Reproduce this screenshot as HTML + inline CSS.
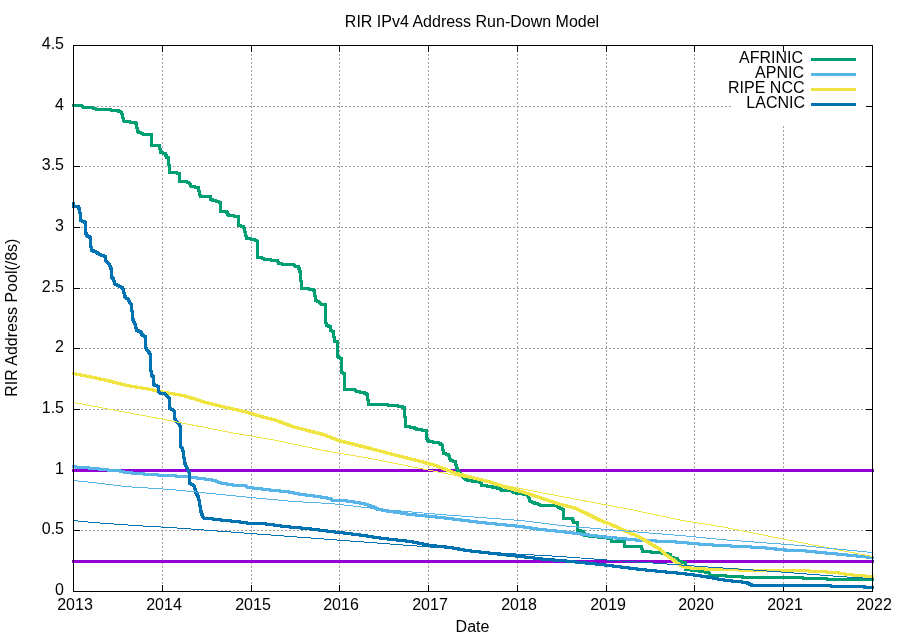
<!DOCTYPE html><html><head><meta charset="utf-8"><style>html,body{margin:0;padding:0;background:#fff;width:900px;height:640px;overflow:hidden}svg{display:block;will-change:transform}text{font-family:"Liberation Sans",sans-serif;font-size:16px;fill:#000}</style></head><body><svg width="900" height="640" viewBox="0 0 900 640"><defs><filter id="d" x="0" y="0" width="900" height="640" filterUnits="userSpaceOnUse" color-interpolation-filters="sRGB"><feMorphology operator="dilate" radius="1"/></filter></defs><rect x="0" y="0" width="900" height="640" fill="#fff"/><path d="M162.5 46V591M251.5 46V591M339.5 46V591M428.5 46V591M517.5 46V591M606.5 46V591M694.5 46V591M783.5 46V591M73 530.5H872M73 470.5H872M73 409.5H872M73 348.5H872M73 288.5H872M73 227.5H872M73 166.5H872M73 106.5H872" stroke="#a0a0a0" stroke-width="1" stroke-dasharray="2 2" fill="none" shape-rendering="crispEdges"/><path d="M73.5 585V591M73.5 46V52M162.5 585V591M162.5 46V52M251.5 585V591M251.5 46V52M339.5 585V591M339.5 46V52M428.5 585V591M428.5 46V52M517.5 585V591M517.5 46V52M606.5 585V591M606.5 46V52M694.5 585V591M694.5 46V52M783.5 585V591M783.5 46V52M872.5 585V591M872.5 46V52M74 591.5H80M866 591.5H872M74 530.5H80M866 530.5H872M74 470.5H80M866 470.5H872M74 409.5H80M866 409.5H872M74 348.5H80M866 348.5H872M74 288.5H80M866 288.5H872M74 227.5H80M866 227.5H872M74 166.5H80M866 166.5H872M74 106.5H80M866 106.5H872M74 45.5H80M866 45.5H872" stroke="#000" stroke-width="1" fill="none" shape-rendering="crispEdges"/><g filter="url(#d)"><path d="M73.5 470.5H872.5M73.5 561.5H872.5" stroke="#9400d3" stroke-width="1" stroke-linecap="square" fill="none" shape-rendering="crispEdges"/></g><g filter="url(#d)"><path d="M73.5 105.5 L81.5 105.5 L83.5 107.5 L91.5 107.5 L97.5 109.5 L105.5 109.5 L116.5 110.5 L120.5 111.5 L122.5 114.5 L123.5 120.5 L124.5 121.5 L134.5 122.5 L136.5 123.5 L137.5 131.5 L139.5 132.5 L144.5 134.5 L151.5 134.5 L151.5 145.5 L159.5 145.5 L160.5 152.5 L165.5 153.5 L166.5 157.5 L168.5 157.5 L169.5 172.5 L174.5 172.5 L179.5 173.5 L179.5 181.5 L186.5 181.5 L189.5 183.5 L191.5 186.5 L198.5 187.5 L199.5 193.5 L200.5 196.5 L210.5 196.5 L210.5 199.5 L214.5 200.5 L220.5 202.5 L220.5 211.5 L226.5 211.5 L228.5 215.5 L238.5 216.5 L238.5 225.5 L243.5 226.5 L245.5 233.5 L246.5 238.5 L254.5 239.5 L257.5 241.5 L257.5 257.5 L261.5 257.5 L264.5 259.5 L277.5 260.5 L278.5 263.5 L285.5 264.5 L293.5 264.5 L295.5 266.5 L298.5 266.5 L299.5 270.5 L300.5 272.5 L301.5 288.5 L304.5 288.5 L313.5 289.5 L314.5 291.5 L315.5 300.5 L318.5 301.5 L321.5 304.5 L325.5 304.5 L325.5 320.5 L326.5 325.5 L330.5 326.5 L330.5 330.5 L333.5 331.5 L334.5 341.5 L337.5 341.5 L337.5 355.5 L338.5 357.5 L341.5 358.5 L341.5 372.5 L344.5 373.5 L344.5 389.5 L354.5 389.5 L356.5 391.5 L363.5 392.5 L367.5 394.5 L368.5 404.5 L380.5 404.5 L395.5 405.5 L400.5 406.5 L404.5 407.5 L405.5 426.5 L413.5 427.5 L417.5 429.5 L426.5 430.5 L426.5 437.5 L428.5 441.5 L436.5 442.5 L438.5 442.5 L442.5 445.5 L443.5 453.5 L448.5 454.5 L450.5 460.5 L455.5 461.5 L456.5 467.5 L458.5 471.5 L462.5 476.5 L467.5 480.5 L475.5 481.5 L481.5 482.5 L481.5 485.5 L491.5 486.5 L493.5 487.5 L500.5 488.5 L501.5 490.5 L511.5 490.5 L513.5 492.5 L518.5 493.5 L526.5 494.5 L528.5 495.5 L529.5 500.5 L532.5 502.5 L536.5 503.5 L541.5 505.5 L556.5 505.5 L560.5 508.5 L563.5 509.5 L563.5 518.5 L572.5 518.5 L573.5 522.5 L577.5 522.5 L577.5 530.5 L583.5 531.5 L584.5 535.5 L593.5 536.5 L601.5 537.5 L611.5 538.5 L611.5 541.5 L624.5 541.5 L624.5 546.5 L641.5 546.5 L642.5 551.5 L658.5 552.5 L670.5 554.5 L670.5 557.5 L677.5 558.5 L678.5 561.5 L685.5 562.5 L685.5 569.5 L695.5 570.5 L708.5 572.5 L710.5 575.5 L741.5 576.5 L743.5 577.5 L800.5 577.5 L805.5 578.5 L848.5 579.5 L872.5 579.5" stroke="#009e73" fill="none" stroke-width="1" stroke-linejoin="miter" stroke-linecap="square" shape-rendering="crispEdges"/></g><g filter="url(#d)"><path d="M73.5 466.5 L75.5 466.5 L76.5 467.5 L88.5 467.5 L89.5 468.5 L98.5 468.5 L99.5 469.5 L107.5 469.5 L108.5 470.5 L117.5 470.5 L126.5 472.5 L136.5 473.5 L151.5 474.5 L164.5 475.5 L186.5 476.5 L215.5 480.5 L218.5 482.5 L235.5 485.5 L245.5 485.5 L247.5 487.5 L257.5 488.5 L273.5 490.5 L286.5 491.5 L301.5 494.5 L317.5 496.5 L330.5 498.5 L332.5 500.5 L343.5 500.5 L363.5 503.5 L372.5 506.5 L378.5 509.5 L390.5 511.5 L410.5 514.5 L430.5 516.5 L440.5 517.5 L480.5 522.5 L520.5 526.5 L540.5 529.5 L560.5 531.5 L600.5 536.5 L620.5 538.5 L640.5 540.5 L670.5 541.5 L704.5 544.5 L720.5 545.5 L760.5 547.5 L790.5 550.5 L800.5 550.5 L872.5 557.5" stroke="#56b4e9" fill="none" stroke-width="1" stroke-linejoin="miter" stroke-linecap="square" shape-rendering="crispEdges"/></g><g filter="url(#d)"><path d="M73.5 373.5 L88.5 376.5 L107.5 380.5 L126.5 385.5 L145.5 388.5 L164.5 392.5 L183.5 395.5 L202.5 401.5 L221.5 406.5 L240.5 410.5 L261.5 416.5 L276.5 420.5 L292.5 426.5 L307.5 430.5 L323.5 434.5 L338.5 440.5 L354.5 444.5 L370.5 448.5 L400.5 456.5 L417.5 460.5 L435.5 465.5 L453.5 472.5 L471.5 477.5 L488.5 481.5 L506.5 487.5 L524.5 492.5 L542.5 498.5 L560.5 504.5 L573.5 507.5 L586.5 513.5 L600.5 520.5 L613.5 525.5 L626.5 531.5 L640.5 537.5 L653.5 545.5 L660.5 549.5 L665.5 554.5 L671.5 558.5 L676.5 562.5 L682.5 566.5 L693.5 568.5 L715.5 569.5 L762.5 570.5 L775.5 570.5 L800.5 570.5 L817.5 571.5 L835.5 572.5 L848.5 574.5 L857.5 575.5 L872.5 576.5" stroke="#f0e442" fill="none" stroke-width="1" stroke-linejoin="miter" stroke-linecap="square" shape-rendering="crispEdges"/></g><g filter="url(#d)"><path d="M73.5 203.5 L73.5 206.5 L78.5 206.5 L79.5 210.5 L80.5 215.5 L80.5 220.5 L83.5 221.5 L85.5 222.5 L85.5 231.5 L86.5 235.5 L90.5 237.5 L90.5 242.5 L91.5 250.5 L95.5 251.5 L99.5 254.5 L105.5 256.5 L105.5 260.5 L108.5 263.5 L110.5 266.5 L111.5 270.5 L111.5 277.5 L113.5 278.5 L114.5 283.5 L117.5 285.5 L122.5 287.5 L123.5 290.5 L124.5 295.5 L125.5 297.5 L128.5 299.5 L129.5 302.5 L131.5 304.5 L132.5 317.5 L133.5 321.5 L135.5 324.5 L136.5 330.5 L140.5 331.5 L142.5 335.5 L145.5 336.5 L145.5 347.5 L147.5 350.5 L150.5 354.5 L150.5 366.5 L151.5 375.5 L153.5 376.5 L153.5 384.5 L155.5 385.5 L158.5 386.5 L158.5 391.5 L160.5 393.5 L164.5 393.5 L166.5 395.5 L169.5 398.5 L169.5 408.5 L172.5 409.5 L174.5 411.5 L174.5 418.5 L176.5 421.5 L179.5 424.5 L180.5 427.5 L180.5 446.5 L182.5 448.5 L183.5 453.5 L184.5 461.5 L185.5 465.5 L188.5 470.5 L189.5 473.5 L189.5 483.5 L192.5 484.5 L194.5 486.5 L195.5 491.5 L198.5 497.5 L199.5 501.5 L200.5 510.5 L201.5 512.5 L202.5 516.5 L204.5 518.5 L208.5 518.5 L216.5 519.5 L225.5 520.5 L236.5 521.5 L250.5 523.5 L262.5 523.5 L284.5 526.5 L306.5 528.5 L323.5 530.5 L330.5 531.5 L356.5 534.5 L383.5 538.5 L410.5 541.5 L430.5 545.5 L450.5 547.5 L466.5 550.5 L493.5 553.5 L520.5 556.5 L546.5 559.5 L560.5 560.5 L600.5 564.5 L640.5 569.5 L660.5 571.5 L682.5 573.5 L704.5 576.5 L726.5 580.5 L746.5 582.5 L752.5 585.5 L760.5 585.5 L796.5 585.5 L864.5 586.5 L864.5 587.5 L872.5 587.5" stroke="#0072b2" fill="none" stroke-width="1" stroke-linejoin="miter" stroke-linecap="square" shape-rendering="crispEdges"/></g><path d="M73.5 402.5 L164.5 419.5 L230.5 432.5 L276.5 440.5 L323.5 450.5 L370.5 458.5 L440.5 472.5 L540.5 492.5 L630.5 509.5 L682.5 520.5 L720.5 526.5 L800.5 542.5 L872.5 556.5" stroke="#f0e442" fill="none" stroke-width="1" stroke-linejoin="miter" shape-rendering="crispEdges"/><path d="M73.5 480.5 L92.5 482.5 L124.5 486.5 L170.5 489.5 L240.5 496.5 L293.5 501.5 L330.5 503.5 L383.5 509.5 L440.5 514.5 L480.5 517.5 L520.5 520.5 L560.5 525.5 L630.5 531.5 L680.5 535.5 L720.5 539.5 L800.5 545.5 L872.5 552.5" stroke="#56b4e9" fill="none" stroke-width="1" stroke-linejoin="miter" shape-rendering="crispEdges"/><path d="M73.5 520.5 L92.5 522.5 L120.5 524.5 L150.5 526.5 L170.5 527.5 L250.5 533.5 L330.5 539.5 L396.5 544.5 L450.5 548.5 L506.5 553.5 L560.5 556.5 L613.5 560.5 L660.5 563.5 L700.5 566.5 L760.5 570.5 L800.5 573.5 L826.5 575.5 L853.5 577.5 L872.5 578.5" stroke="#0072b2" fill="none" stroke-width="1" stroke-linejoin="miter" shape-rendering="crispEdges"/><rect x="732" y="52" width="134" height="73" fill="#fff" shape-rendering="crispEdges"/><text transform="translate(803,63)" text-anchor="end">AFRINIC</text><path d="M811 59.5H856" stroke="#009e73" stroke-width="3" shape-rendering="crispEdges"/><text transform="translate(804,78)" text-anchor="end">APNIC</text><path d="M811 74.5H856" stroke="#56b4e9" stroke-width="3" shape-rendering="crispEdges"/><text transform="translate(804.5,93)" text-anchor="end">RIPE NCC</text><path d="M811 89.5H856" stroke="#f0e442" stroke-width="3" shape-rendering="crispEdges"/><text transform="translate(805,108)" text-anchor="end">LACNIC</text><path d="M811 104.5H856" stroke="#0072b2" stroke-width="3" shape-rendering="crispEdges"/><path d="M73.5 45.5H872.5V591.5H73.5Z" stroke="#000" stroke-width="1" fill="none" shape-rendering="crispEdges"/><text transform="translate(64,595)" text-anchor="end">0</text><text transform="translate(64,534)" text-anchor="end">0.5</text><text transform="translate(64,474)" text-anchor="end">1</text><text transform="translate(64,413)" text-anchor="end">1.5</text><text transform="translate(64,352)" text-anchor="end">2</text><text transform="translate(64,292)" text-anchor="end">2.5</text><text transform="translate(64,231)" text-anchor="end">3</text><text transform="translate(64,170)" text-anchor="end">3.5</text><text transform="translate(64,110)" text-anchor="end">4</text><text transform="translate(64,49)" text-anchor="end">4.5</text><text transform="translate(75,610)" text-anchor="middle">2013</text><text transform="translate(164,610)" text-anchor="middle">2014</text><text transform="translate(253,610)" text-anchor="middle">2015</text><text transform="translate(341,610)" text-anchor="middle">2016</text><text transform="translate(430,610)" text-anchor="middle">2017</text><text transform="translate(519,610)" text-anchor="middle">2018</text><text transform="translate(608,610)" text-anchor="middle">2019</text><text transform="translate(696,610)" text-anchor="middle">2020</text><text transform="translate(785,610)" text-anchor="middle">2021</text><text transform="translate(874,610)" text-anchor="middle">2022</text><text transform="translate(472,27)" text-anchor="middle">RIR IPv4 Address Run-Down Model</text><text transform="translate(472.5,632)" text-anchor="middle">Date</text><text transform="translate(17,317.7) rotate(-90)" text-anchor="middle">RIR Address Pool(/8s)</text></svg></body></html>
